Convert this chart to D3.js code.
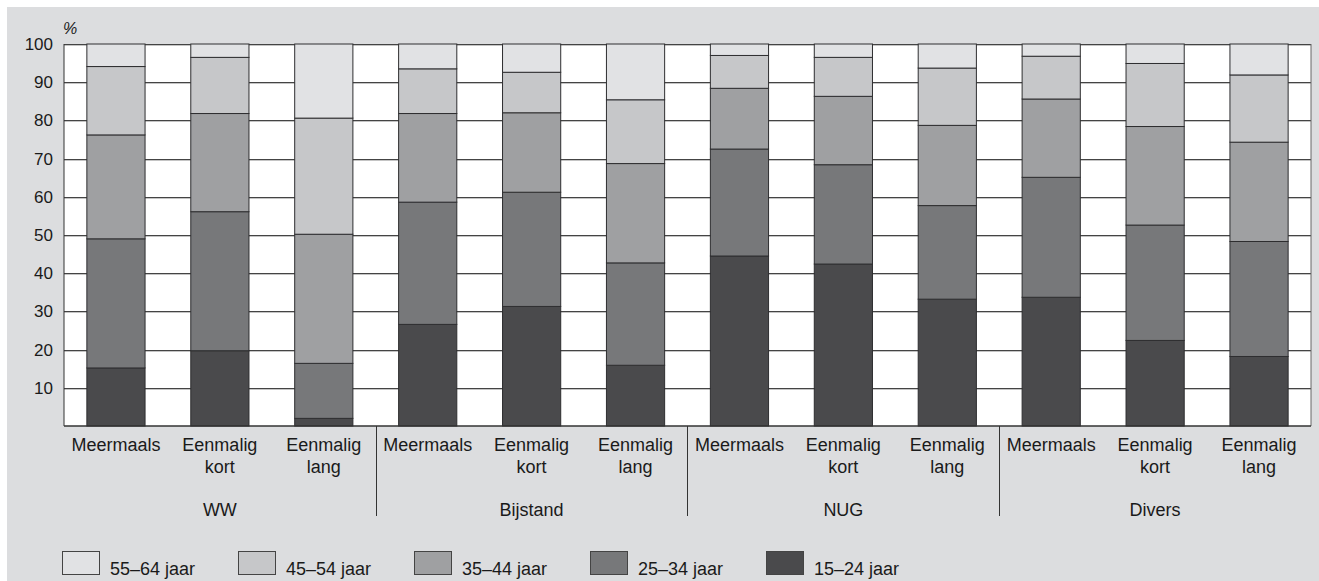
<!DOCTYPE html>
<html>
<head>
<meta charset="utf-8">
<script src="https://cdn.jsdelivr.net/npm/d3@7"></script>
<style>
  body { margin: 0; background: #fff; }
  svg { display: block; font-family: "Liberation Sans", Arial, sans-serif; }
</style>
</head>
<body>
<div id="chart"></div>
<script>
// groups and categories (bars)
const groups = ["WW", "Bijstand", "NUG", "Divers"];
const categories = [["Meermaals"], ["Eenmalig", "kort"], ["Eenmalig", "lang"]];

// age series, bottom to top, values per bar (%)
const ages = ["15–24 jaar", "25–34 jaar", "35–44 jaar", "45–54 jaar", "55–64 jaar"];
const age15_24 = [15.2, 19.7, 2.0, 26.6, 31.3, 15.9, 44.5, 42.4, 33.2, 33.7, 22.4, 18.2];
const age25_34 = [33.8, 36.4, 14.4, 32.0, 29.9, 26.8, 28.0, 26.0, 24.5, 31.4, 30.2, 30.1];
const age35_44 = [27.2, 25.7, 33.8, 23.2, 20.8, 26.0, 15.9, 17.9, 21.0, 20.5, 25.8, 26.0];
const age45_54 = [17.9, 14.7, 30.4, 11.7, 10.6, 16.7, 8.6, 10.2, 15.0, 11.2, 16.5, 17.6];
const age55_64 = [5.9, 3.5, 19.4, 6.5, 7.4, 14.6, 3.0, 3.5, 6.3, 3.2, 5.1, 8.1];
const yTicks = [10, 20, 30, 40, 50, 60, 70, 80, 90, 100];
const legendOrder = ["55–64 jaar", "45–54 jaar", "35–44 jaar", "25–34 jaar", "15–24 jaar"];

const colors = {
  "15–24 jaar": "#4a4a4c",
  "25–34 jaar": "#77787a",
  "35–44 jaar": "#9fa0a2",
  "45–54 jaar": "#c6c7c9",
  "55–64 jaar": "#e1e2e4"
};

const W = 1319, H = 581;
const plot = { left: 64, right: 1311, top: 44, bottom: 426 };

// build rows for stacking
const series = [age15_24, age25_34, age35_44, age45_54, age55_64];
const rows = [];
groups.forEach((g, gi) => {
  categories.forEach((c, ci) => {
    const i = gi * 3 + ci;
    const row = { key: g + "|" + ci, group: g, cat: c };
    ages.forEach((a, ai) => row[a] = series[ai][i]);
    rows.push(row);
  });
});

const stacked = d3.stack().keys(ages)(rows);

const svg = d3.select("#chart").append("svg")
  .attr("width", W)
  .attr("height", H);

// grey panel
svg.append("rect")
  .attr("x", 7).attr("y", 7)
  .attr("width", W - 7).attr("height", H - 7)
  .attr("fill", "#dcdddf");

const x = d3.scaleBand()
  .domain(rows.map(d => d.key))
  .range([plot.left, plot.right])
  .paddingInner(0.44)
  .paddingOuter(0.22);

const y = d3.scaleLinear()
  .domain([0, 100])
  .range([plot.bottom, plot.top]);

// plot background
svg.append("rect")
  .attr("x", plot.left).attr("y", plot.top)
  .attr("width", plot.right - plot.left)
  .attr("height", plot.bottom - plot.top)
  .attr("fill", "#fff");

// gridlines
const grid = svg.append("g").attr("shape-rendering", "crispEdges");
grid.selectAll("line.light")
  .data(yTicks)
  .enter().append("line")
  .attr("class", "light")
  .attr("x1", plot.left).attr("x2", plot.right)
  .attr("y1", d => Math.round(y(d)) + 1.5)
  .attr("y2", d => Math.round(y(d)) + 1.5)
  .attr("stroke", "#c4c4c4");
grid.selectAll("line.dark")
  .data(yTicks)
  .enter().append("line")
  .attr("class", "dark")
  .attr("x1", plot.left).attr("x2", plot.right)
  .attr("y1", d => Math.round(y(d)) + 0.5)
  .attr("y2", d => Math.round(y(d)) + 0.5)
  .attr("stroke", "#444");

// bars
svg.append("g")
  .selectAll("g")
  .data(stacked)
  .enter().append("g")
  .attr("fill", d => colors[d.key])
  .selectAll("rect")
  .data(d => d)
  .enter().append("rect")
  .attr("x", d => x(d.data.key))
  .attr("y", d => y(d[1]))
  .attr("width", x.bandwidth())
  .attr("height", d => y(d[0]) - y(d[1]))
  .attr("stroke", "#2e2e30")
  .attr("stroke-width", 1);

// plot frame
svg.append("line")
  .attr("x1", plot.left).attr("x2", plot.left)
  .attr("y1", plot.top).attr("y2", plot.bottom)
  .attr("stroke", "#333");
svg.append("line")
  .attr("x1", plot.right).attr("x2", plot.right)
  .attr("y1", plot.top).attr("y2", plot.bottom)
  .attr("stroke", "#666");
svg.append("line")
  .attr("x1", plot.left).attr("x2", plot.right)
  .attr("y1", plot.bottom).attr("y2", plot.bottom)
  .attr("stroke", "#333").attr("stroke-width", 1.5);

// y axis labels
const yAxis = d3.axisLeft(y).tickValues(yTicks).tickSize(0).tickPadding(11);
const ya = svg.append("g")
  .attr("transform", "translate(" + plot.left + ",0)")
  .call(yAxis);
ya.select(".domain").remove();
ya.selectAll("text")
  .attr("font-size", 17)
  .attr("font-family", "Liberation Sans, Arial, sans-serif")
  .attr("fill", "#1a1a1a");

svg.append("text")
  .attr("x", 63).attr("y", 34)
  .attr("font-size", 16)
  .attr("font-style", "italic")
  .attr("fill", "#1a1a1a")
  .text("%");

// category labels
const catLabels = svg.append("g")
  .attr("font-size", 18)
  .attr("fill", "#1a1a1a")
  .attr("text-anchor", "middle");
rows.forEach(r => {
  const t = catLabels.append("text")
    .attr("x", x(r.key) + x.bandwidth() / 2)
    .attr("y", 451);
  r.cat.forEach((line, li) => {
    t.append("tspan")
      .attr("x", x(r.key) + x.bandwidth() / 2)
      .attr("dy", li === 0 ? 0 : 22)
      .text(line);
  });
});

// group labels and separators
const step = x.step();
groups.forEach((g, gi) => {
  const first = x(g + "|0"), last = x(g + "|2") + x.bandwidth();
  svg.append("text")
    .attr("x", (first + last) / 2)
    .attr("y", 516)
    .attr("font-size", 18)
    .attr("text-anchor", "middle")
    .attr("fill", "#1a1a1a")
    .text(g);
  if (gi > 0) {
    const sx = Math.round(first - step * 0.22) + 0.5;
    svg.append("line")
      .attr("x1", sx).attr("x2", sx)
      .attr("y1", plot.bottom).attr("y2", 516)
      .attr("stroke", "#333");
  }
});

// legend
const legend = svg.append("g").attr("transform", "translate(62,551)");
const li = legend.selectAll("g")
  .data(legendOrder)
  .enter().append("g")
  .attr("transform", (d, i) => "translate(" + (i * 176) + ",0)");
li.append("rect")
  .attr("x", 0.5).attr("y", 0.5)
  .attr("width", 37).attr("height", 23)
  .attr("fill", d => colors[d])
  .attr("stroke", "#444");
li.append("text")
  .attr("x", 48).attr("y", 24)
  .attr("font-size", 18)
  .attr("fill", "#1a1a1a")
  .text(d => d);
</script>
</body>
</html>
